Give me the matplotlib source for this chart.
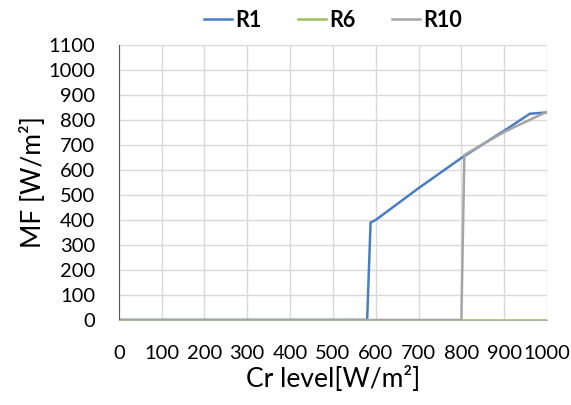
from matplotlib import pyplot as plt

# data
r1_x = [0, 580, 588, 600, 700, 800, 900, 960, 1000]
r1_y = [0, 0, 390, 400, 527, 648, 757, 825, 830]
r6_x = [0, 1000]
r6_y = [0, 0]
r10_x = [0, 800, 807, 900, 1000]
r10_y = [0, 0, 660, 752, 833]
xticks = list(range(0, 1001, 100))
yticks = list(range(0, 1101, 100))

plt.rcParams['font.family'] = ['Lato', 'DejaVu Sans']

fig = plt.figure(figsize=(5.71, 4.05), dpi=100)
ax = fig.add_axes([0.208, 0.21, 0.75, 0.679])

ax.plot(r1_x, r1_y, color='#4a7ec4', linewidth=1.8, label='R1')
ax.plot(r6_x, r6_y, color='#9bc25a', linewidth=1.8, label='R6')
ax.plot(r10_x, r10_y, color='#a5a5a5', linewidth=1.8, label='R10')

ax.set_xlim(0, 1000)
ax.set_ylim(0, 1100)
ax.set_xticks(xticks)
ax.set_yticks(yticks)
ax.tick_params(axis='x', length=0, pad=18, labelsize=14.5)
ax.tick_params(axis='y', length=0, pad=17, labelsize=14.5)
ax.grid(True, color='#d9d9d9', linewidth=1)
ax.set_axisbelow(True)
for s in ['top', 'right']:
    ax.spines[s].set_visible(False)
ax.spines['left'].set_color('#595959')
ax.spines['bottom'].set_color('#a9b8a0')

ax.set_xlabel('Cr level[W/m²]', fontsize=19, labelpad=3)
ax.set_ylabel('MF [W/m²]', fontsize=19, labelpad=2)

leg = ax.legend(loc='lower center', bbox_to_anchor=(0.5, 1.0), ncol=3, frameon=False,
                prop={'weight': 'bold', 'size': 15.5}, handlelength=1.3, handletextpad=0.15,
                columnspacing=1.7, borderaxespad=0.25)

plt.savefig('out.png', dpi=100)
